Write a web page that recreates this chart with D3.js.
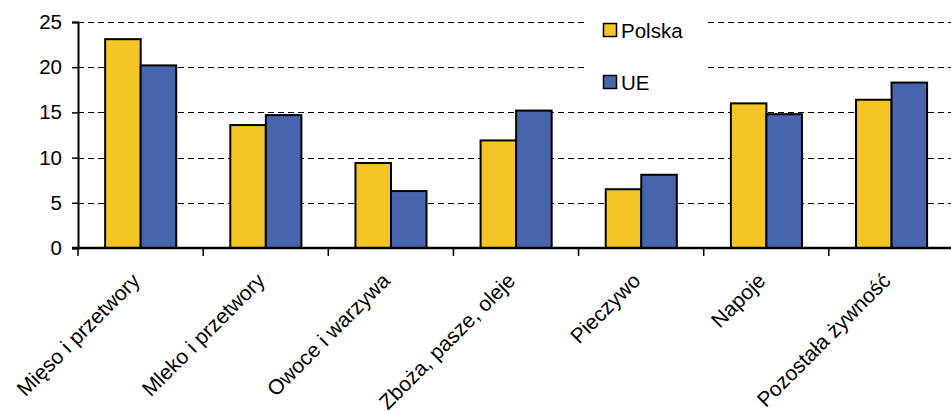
<!DOCTYPE html>
<html><head><meta charset="utf-8">
<script src="https://cdn.jsdelivr.net/npm/d3@7"></script>
<style>
html,body{margin:0;padding:0;background:#fff;}
svg{display:block;font-family:"Liberation Sans",Arial,sans-serif;}
</style></head>
<body>
<svg id="chart" width="951" height="411"></svg>
<script>
const categories = ["Mięso i przetwory","Mleko i przetwory","Owoce i warzywa","Zboża, pasze, oleje","Pieczywo","Napoje","Pozostała żywność"];
const seriesNames = ["Polska","UE"];
const polska = [23.1, 13.6, 9.4, 11.9, 6.5, 16.0, 16.4];
const ue = [20.2, 14.7, 6.3, 15.2, 8.1, 14.8, 18.3];
const yTicks = [0,5,10,15,20,25];
const colors = ["#F3C625","#4665AD"];

(function(){
const svg = d3.select("#chart");
const mLeft = 78, mRight = 954, mTop = 22, mBottom = 248;
const fs = 20.5, fsCat = 21;

const x = d3.scaleBand().domain(categories).range([mLeft, mRight]).padding(0);
const bw = x.bandwidth();
const xs = d3.scaleBand().domain(seriesNames).range([bw*0.217, bw*0.785]).padding(0);
const y = d3.scaleLinear().domain([0,25]).range([mBottom, mTop]);

// gridlines
svg.append("g").selectAll("line").data(yTicks.filter(t=>t>0)).join("line")
  .attr("x1", mLeft).attr("x2", 951)
  .attr("y1", d=>Math.round(y(d))+0.5).attr("y2", d=>Math.round(y(d))+0.5)
  .attr("stroke","#000").attr("stroke-width",1.2).attr("stroke-dasharray","6,4");

// legend background
const lg = svg.append("g");
lg.append("rect").attr("x",584).attr("y",8).attr("width",121).attr("height",94).attr("fill","#fff");
seriesNames.forEach((s,i)=>{
  const yy = 23 + i*52;
  lg.append("rect").attr("x",603.5).attr("y",yy+0.5).attr("width",13).attr("height",13)
    .attr("fill",colors[i]).attr("stroke","#000").attr("stroke-width",1.5);
  lg.append("text").attr("x",621).attr("y",yy+14.5).attr("font-size",fs).attr("fill","#000").text(s);
});

// bars
const data = categories.map((c,i)=>({c, vals:[polska[i], ue[i]]}));
const grp = svg.append("g").selectAll("g").data(data).join("g")
  .attr("transform", d=>`translate(${x(d.c)},0)`);
grp.selectAll("rect").data(d=>d.vals.map((v,j)=>({s:seriesNames[j], v, j}))).join("rect")
  .attr("x", d=>xs(d.s)).attr("width", xs.bandwidth())
  .attr("y", d=>y(d.v)).attr("height", d=>y(0)-y(d.v))
  .attr("fill", d=>colors[d.j]).attr("stroke","#000").attr("stroke-width",2);

// y axis
const yAxis = svg.append("g").attr("transform",`translate(${mLeft},0)`)
  .call(d3.axisLeft(y).tickValues(yTicks).tickSize(6).tickPadding(10));
yAxis.select(".domain").attr("stroke","#000").attr("stroke-width",2);
yAxis.selectAll(".tick line").attr("stroke","#000").attr("stroke-width",1.5);
yAxis.selectAll("text").attr("font-size",fs).attr("fill","#000")
  .attr("font-family",'"Liberation Sans",Arial,sans-serif');

// x axis
const xAxis = svg.append("g").attr("transform",`translate(0,${mBottom})`)
  .call(d3.axisBottom(x).tickSize(0).tickFormat(""));
xAxis.select(".domain").attr("stroke","#000").attr("stroke-width",2.5)
  .attr("d", `M${mLeft-6},0H${951}`);
const bounds = categories.map(c=>x(c)).concat([x(categories[categories.length-1])+bw]);
xAxis.append("g").selectAll("line").data(bounds).join("line")
  .attr("x1",d=>d).attr("x2",d=>d).attr("y1",0).attr("y2",8)
  .attr("stroke","#000").attr("stroke-width",1.5);
xAxis.append("g").selectAll("text").data(categories).join("text")
  .attr("transform", c=>`translate(${x(c)+bw/2+0.5},${282-mBottom}) rotate(-45)`)
  .attr("text-anchor","end").attr("font-size",fsCat).attr("fill","#000")
  .attr("font-family",'"Liberation Sans",Arial,sans-serif')
  .text(c=>c);
})();
</script>
</body></html>
